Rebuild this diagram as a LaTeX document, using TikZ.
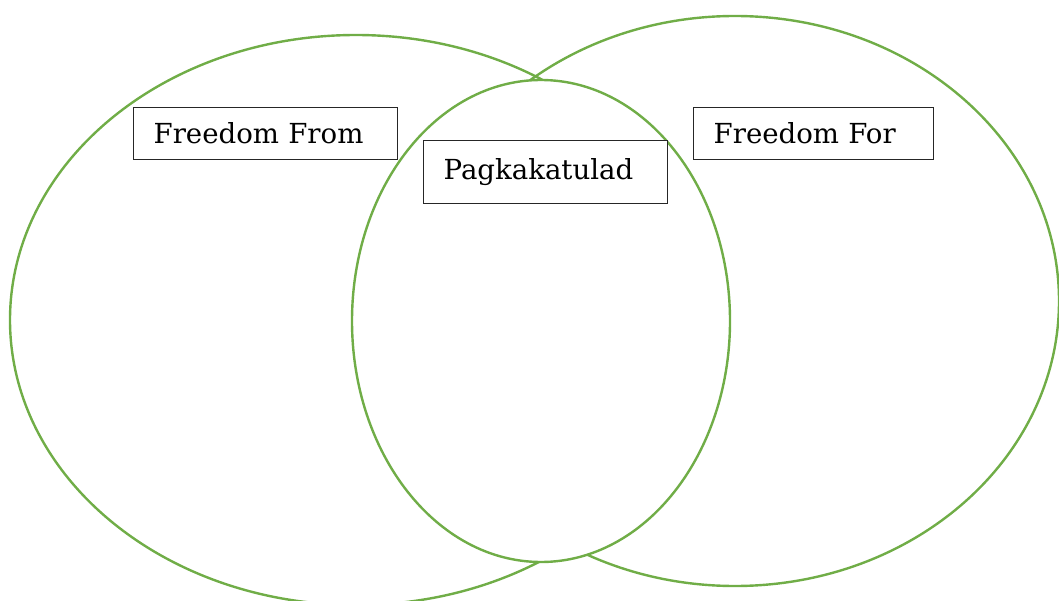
\documentclass[tikz,border=0pt]{standalone}
\usepackage{fontspec}
\setmainfont{DejaVu Serif}
\definecolor{vgreen}{HTML}{70AD47}
\begin{document}
\begin{tikzpicture}[x=1pt,y=-1pt,
  circ/.style={draw=vgreen,line width=2.4pt},
  lbl/.style={draw=black!85,line width=1.3pt,fill=white,rectangle,inner xsep=20pt,inner ysep=0pt,align=left,font=\fontsize{27.6}{32}\selectfont,anchor=north west}]
\useasboundingbox (0,0) rectangle (1059,601);
\begin{scope}
\clip (0,0) rectangle (1059,601);
\draw[circ] (356,320) ellipse [x radius=346, y radius=285];
\draw[circ] (735,301) ellipse [x radius=324, y radius=285];
\draw[circ,fill=white] (541,321) ellipse [x radius=189, y radius=241];
\end{scope}
\node[lbl,text width=224pt,minimum height=52pt] (from) at (133,107) {Freedom From};
\node[lbl,text width=204pt,minimum height=63pt] (same) at (423,140) {Pagkakatulad};
\node[lbl,text width=200pt,minimum height=52pt] (for) at (693,107) {Freedom For};
\end{tikzpicture}
\end{document}
